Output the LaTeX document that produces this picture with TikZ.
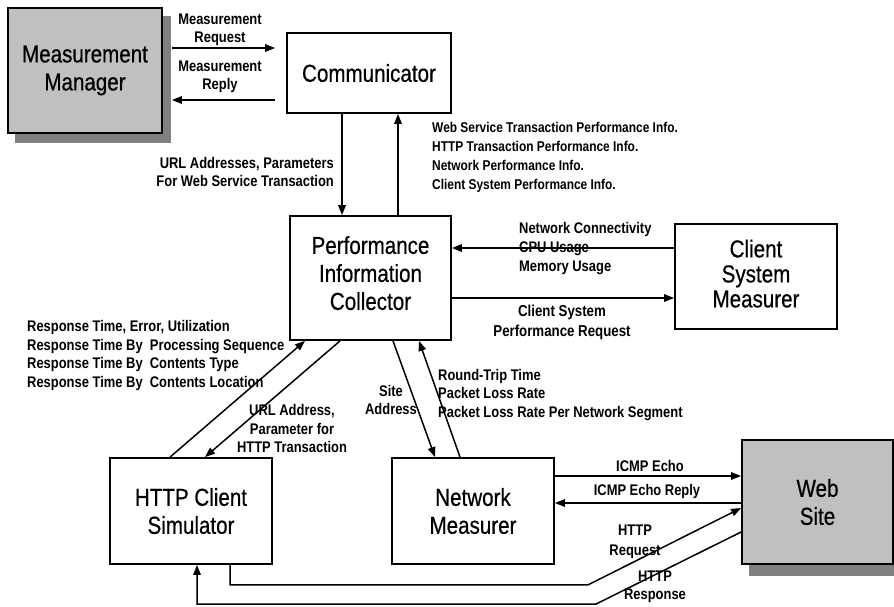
\documentclass[tikz,border=0pt]{standalone}
\usepackage{fontspec}
\setmainfont{Liberation Sans}[FakeStretch=0.84]
\newfontfamily\blockfont{Liberation Sans}[FakeStretch=0.84,FakeBold=0.5]
\usetikzlibrary{arrows.meta,calc,backgrounds}

\definecolor{boxgray}{RGB}{192,192,192}
\definecolor{shadowgray}{RGB}{128,128,128}

\begin{document}
\begin{tikzpicture}[x=1pt,y=-1pt,
  box/.style={draw,line width=1.8pt,inner sep=0pt,align=center,
    font=\blockfont\fontsize{24.5}{28}\selectfont},
  lbl/.style={inner sep=0pt,align=center,
    font=\bfseries\fontsize{15.4}{18.5}\selectfont},
  arr/.style={line width=1.5pt,-{Triangle[length=10pt,width=7.5pt]}},
  shadowbox/.style={fill=shadowgray}]
\useasboundingbox (0,0) rectangle (894,606);

% ---- blocks ----
\node[box,fill=boxgray,minimum width=154pt,minimum height=125pt] (mm) at (85,70.5) {Measurement\\Manager};
\node[box,minimum width=164pt,minimum height=80pt] (comm) at (369,73) {Communicator};
\node[box,minimum width=161pt,minimum height=124pt] (pic) at (370.5,278) {Performance\\Information\\Collector\rule[-10pt]{0pt}{10pt}};
\node[box,minimum width=162pt,minimum height=105pt,font=\blockfont\fontsize{24.5}{25}\selectfont] (csm) at (756,276.5) {Client\\System\\Measurer\rule[-6pt]{0pt}{6pt}};
\node[box,minimum width=162pt,minimum height=106pt] (hcs) at (191,511) {HTTP Client\\Simulator};
\node[box,minimum width=162pt,minimum height=106pt] (nm) at (473,511) {Network\\Measurer};
\node[box,fill=boxgray,minimum width=151pt,minimum height=124pt] (ws) at (817.5,502) {Web\\Site};

% drop shadows of the two external blocks
\begin{scope}[on background layer]
  \fill[shadowbox] ($(mm.south west)+(8,9)$) rectangle ($(mm.north east)+(8,9)$);
  \fill[shadowbox] ($(ws.south west)+(8,11)$) rectangle ($(ws.north east)+(8,11)$);
\end{scope}

% ---- manager <-> communicator ----
\draw[arr] ($(mm.east)+(9,-22.5)$) -- ($(comm.west)+(-11,-25)$);
\draw[arr] ($(comm.west)+(-11,27)$) -- ($(mm.east)+(9,29.5)$);
\node[lbl] (lreq) at (220,30) {Measurement\\Request};
\node[lbl] (lrep) at (220,77) {Measurement\\Reply};

% ---- communicator <-> collector ----
\draw[arr] ($(comm.south)+(-27,0)$) coordinate (c1) -- (c1 |- pic.north);
\draw[arr] ($(pic.north)+(27.5,0)$) coordinate (c2) -- (c2 |- comm.south);
\node[lbl,align=right,anchor=east] (lurl) at (334,172) {URL Addresses, Parameters\\For Web Service Transaction};
\node[lbl,align=left,anchor=west,font=\bfseries\fontsize{14.2}{19}\selectfont] (linfo) at (432,157.5)
  {Web Service Transaction Performance Info.\\HTTP Transaction Performance Info.\\Network Performance Info.\\Client System Performance Info.};

% ---- collector <-> client system measurer ----
\node[lbl,align=left,anchor=west,font=\bfseries\fontsize{15.4}{19}\selectfont] (lcpu) at (519,249)
  {Network Connectivity\\CPU Usage\\Memory Usage};
\draw[arr] ($(csm.west)+(0,-28.5)$) coordinate (c3) -- (c3 -| pic.east);
\draw[arr] ($(pic.east)+(0,20)$) coordinate (c4) -- (c4 -| csm.west);
\node[lbl,font=\bfseries\fontsize{15.8}{20}\selectfont] (lcsr) at (562,322) {Client System\\Performance Request};

% ---- collector <-> HTTP client simulator ----
\draw[arr] ($(hcs.north)+(-21,0)$) -- ($(pic.south)+(-65.5,0)$);
\draw[arr] ($(pic.south)+(-30.5,0)$) -- ($(hcs.north)+(14,0)$);
\node[lbl,align=left,anchor=west] (lresp) at (27,355.5)
  {Response Time, Error, Utilization\\Response Time By~ Processing Sequence\\Response Time By~ Contents Type\\Response Time By~ Contents Location};
\node[lbl] (lhttpurl) at (292,428.5) {URL Address,\\Parameter for\\HTTP Transaction};

% ---- collector <-> network measurer ----
\draw[arr] ($(pic.south)+(22.5,0)$) -- ($(nm.north)+(-38,0)$);
\draw[arr] ($(nm.north)+(-13,0)$) -- ($(pic.south)+(48.5,0)$);
\node[lbl] (lsite) at (391,400) {Site\\Address};
\node[lbl,align=left,anchor=west] (lrtt) at (438,395)
  {Round-Trip Time\\Packet Loss Rate\\Packet Loss Rate Per Network Segment};

% ---- network measurer <-> web site ----
\draw[arr] ($(nm.east)+(0,-35)$) coordinate (c5) -- (c5 -| ws.west);
\draw[arr] ($(ws.west)+(0,1)$) coordinate (c6) -- (c6 -| nm.east);
\node[lbl] (lecho) at (650,466) {ICMP Echo};
\node[lbl] (lechorep) at (647,492) {ICMP Echo Reply};

% ---- HTTP client simulator <-> web site ----
\draw[arr] ($(hcs.south)+(39,0)$) -- ++(0,20) -- ++(358,0) -- ($(ws.west)+(0,6)$);
\coordinate (hin) at ($(hcs.south)+(6,0)$);
\draw[arr] ($(ws.west)+(0,30)$) -- ++(-145,72) coordinate (c7) -- (c7 -| hin) -- (hin);
\node[lbl,font=\bfseries\fontsize{15.4}{20}\selectfont] (lhreq) at (635,542) {HTTP\\Request};
\node[lbl] (lhresp) at (655,587) {HTTP\\Response};
\end{tikzpicture}
\end{document}
